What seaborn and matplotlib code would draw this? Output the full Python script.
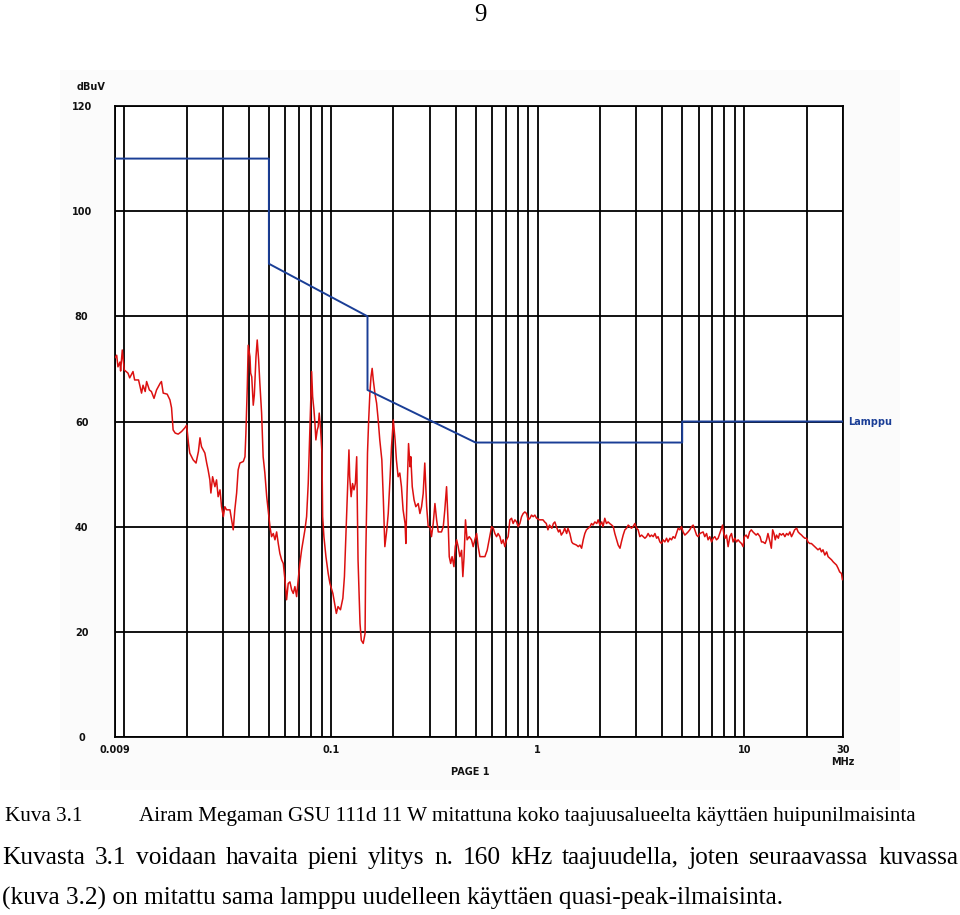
import matplotlib
matplotlib.use("Agg")
import matplotlib.pyplot as plt
import seaborn as sns
import pandas as pd

# ---------------- data ----------------
freq_mhz = [
    0.009, 0.00917, 0.0093, 0.00951, 0.00958, 0.00976, 0.00998, 0.0104, 0.0106, 0.0110,
    0.0112, 0.0117, 0.0119, 0.0121, 0.0123, 0.0126, 0.0128, 0.0132, 0.0135, 0.0139,
    0.0143, 0.0149, 0.0151, 0.0154, 0.0161, 0.0166, 0.0169, 0.0172, 0.0176, 0.0182,
    0.0189, 0.0196, 0.0200, 0.0204, 0.0207, 0.0215, 0.0222, 0.0228, 0.0232, 0.0236,
    0.0245, 0.0250, 0.0254, 0.0259, 0.0262, 0.0267, 0.0274, 0.0279, 0.0284, 0.0290,
    0.0295, 0.0301, 0.0306, 0.0312, 0.0324, 0.0336, 0.0342, 0.0349, 0.0355, 0.0362,
    0.0376, 0.0383, 0.0387, 0.0393, 0.0397, 0.0405, 0.0408, 0.0413, 0.0420, 0.0425,
    0.0433, 0.0439, 0.0446, 0.0452, 0.0461, 0.0469, 0.0478, 0.0488, 0.0496, 0.0506,
    0.0515, 0.0525, 0.0535, 0.0545, 0.0555, 0.0565, 0.0576, 0.0587, 0.0598, 0.0609,
    0.0620, 0.0632, 0.0644, 0.0656, 0.0668, 0.0681, 0.0693, 0.0706, 0.0720, 0.0733,
    0.0747, 0.0761, 0.0775, 0.0784, 0.0799, 0.0805, 0.0814, 0.0826, 0.0835, 0.0844,
    0.0857, 0.0866, 0.0876, 0.0890, 0.0903, 0.0910, 0.0923, 0.0944, 0.0968, 0.0987,
    0.102, 0.106, 0.108, 0.111, 0.114, 0.116, 0.118, 0.120, 0.122, 0.123,
    0.125, 0.127, 0.129, 0.131, 0.133, 0.134, 0.135, 0.138, 0.140, 0.143,
    0.146, 0.147, 0.149, 0.150, 0.152, 0.154, 0.156, 0.158, 0.160, 0.163,
    0.166, 0.169, 0.172, 0.176, 0.179, 0.182, 0.186, 0.189, 0.193, 0.196,
    0.200, 0.204, 0.207, 0.211, 0.215, 0.219, 0.223, 0.228, 0.230, 0.233,
    0.237, 0.241, 0.243, 0.247, 0.252, 0.257, 0.264, 0.269, 0.274, 0.279,
    0.284, 0.290, 0.295, 0.301, 0.306, 0.312, 0.318, 0.324, 0.330, 0.342,
    0.349, 0.355, 0.362, 0.369, 0.373, 0.379, 0.385, 0.393, 0.399, 0.405,
    0.412, 0.420, 0.428, 0.434, 0.440, 0.447, 0.455, 0.466, 0.478, 0.487,
    0.496, 0.506, 0.515, 0.525, 0.541, 0.555, 0.569, 0.582, 0.598, 0.609,
    0.620, 0.632, 0.643, 0.656, 0.668, 0.680, 0.693, 0.706, 0.719, 0.733,
    0.747, 0.760, 0.775, 0.790, 0.804, 0.819, 0.835, 0.850, 0.866, 0.883,
    0.899, 0.916, 0.933, 0.950, 0.968, 0.987, 1.02, 1.06, 1.08, 1.10,
    1.12, 1.14, 1.17, 1.19, 1.21, 1.23, 1.26, 1.28, 1.30, 1.33,
    1.35, 1.38, 1.40, 1.43, 1.46, 1.48, 1.54, 1.57, 1.60, 1.63,
    1.66, 1.69, 1.72, 1.79, 1.82, 1.85, 1.89, 1.93, 1.96, 2.00,
    2.04, 2.07, 2.11, 2.15, 2.19, 2.23, 2.28, 2.32, 2.36, 2.41,
    2.45, 2.50, 2.54, 2.59, 2.64, 2.69, 2.74, 2.79, 2.84, 2.89,
    2.95, 3.01, 3.06, 3.12, 3.18, 3.24, 3.30, 3.36, 3.42, 3.49,
    3.55, 3.62, 3.69, 3.76, 3.82, 3.90, 3.97, 4.04, 4.12, 4.20,
    4.27, 4.36, 4.44, 4.52, 4.61, 4.69, 4.78, 4.87, 4.96, 5.05,
    5.15, 5.25, 5.34, 5.44, 5.55, 5.65, 5.75, 5.87, 5.97, 6.09,
    6.31, 6.43, 6.56, 6.67, 6.80, 6.93, 7.06, 7.19, 7.33, 7.46,
    7.60, 7.75, 7.84, 7.95, 8.07, 8.19, 8.34, 8.50, 8.66, 8.82,
    8.99, 9.16, 9.32, 9.50, 9.68, 9.86, 10.0, 10.2, 10.4, 10.6,
    10.8, 11.0, 11.2, 11.4, 11.6, 11.9, 12.1, 12.3, 12.6, 12.8,
    13.0, 13.3, 13.5, 13.7, 13.9, 14.1, 14.3, 14.6, 14.8, 15.1,
    15.4, 15.7, 16.0, 16.3, 16.6, 16.9, 17.2, 17.5, 17.9, 18.2,
    18.5, 18.9, 19.2, 19.6, 20.0, 20.3, 20.7, 21.1, 21.5, 21.9,
    22.3, 22.7, 23.2, 23.6, 24.0, 24.5, 25.0, 25.4, 25.9, 26.4,
    26.9, 27.4, 27.9, 28.4, 28.9, 29.5, 29.8,
]
level_dbuv = [
    72.1, 72.6, 70.4, 71.3, 69.6, 73.6, 69.8, 69.2, 68.3, 69.5,
    67.9, 67.9, 66.6, 65.4, 66.9, 65.7, 67.6, 66.0, 65.7, 64.4,
    66.0, 67.3, 67.6, 65.4, 65.2, 64.1, 62.6, 58.4, 57.8, 57.6,
    58.1, 58.8, 59.3, 55.9, 54.0, 52.7, 52.1, 54.3, 56.9, 55.2,
    54.0, 52.1, 50.8, 48.9, 46.4, 49.5, 47.6, 48.9, 45.7, 47.0,
    43.8, 41.9, 43.8, 43.2, 43.2, 39.4, 43.2, 46.4, 50.8, 52.1,
    52.4, 53.3, 57.8, 66.6, 74.5, 72.3, 69.2, 68.5, 63.1, 65.0,
    72.3, 75.5, 71.7, 67.3, 61.6, 53.3, 50.2, 45.7, 43.2, 40.0,
    38.1, 38.7, 37.5, 39.0, 36.8, 34.9, 33.7, 33.0, 29.9, 26.1,
    29.2, 29.5, 28.0, 27.3, 28.6, 26.7, 29.9, 33.0, 35.6, 37.5,
    39.4, 41.9, 48.2, 54.6, 64.7, 69.5, 64.7, 62.2, 59.7, 56.5,
    58.4, 59.0, 61.6, 58.4, 54.0, 41.9, 38.1, 34.3, 31.1, 29.2,
    27.3, 23.5, 24.8, 24.2, 26.4, 30.5, 38.7, 47.0, 54.6, 49.5,
    45.7, 48.2, 47.0, 48.2, 53.3, 43.2, 33.7, 21.6, 18.4, 17.8,
    19.7, 33.7, 46.3, 54.0, 60.3, 65.3, 68.5, 70.1, 67.9, 65.3,
    63.5, 60.3, 56.5, 52.7, 45.1, 36.2, 39.4, 42.5, 49.5, 55.2,
    60.3, 56.5, 52.7, 49.5, 50.2, 47.6, 43.2, 40.6, 36.8, 46.3,
    55.8, 51.4, 53.3, 47.6, 45.1, 43.8, 44.4, 42.5, 43.8, 46.3,
    52.1, 43.8, 40.0, 40.0, 38.1, 40.6, 44.4, 41.3, 39.0, 39.0,
    40.0, 43.2, 47.6, 40.0, 34.3, 33.0, 34.3, 32.4, 36.2, 37.5,
    36.2, 34.3, 35.5, 30.5, 34.3, 41.3, 37.5, 38.1, 37.5, 36.2,
    37.5, 38.7, 36.2, 34.3, 34.3, 34.3, 35.5, 37.5, 40.0, 39.7,
    38.7, 38.1, 38.7, 38.1, 36.8, 37.5, 36.2, 37.5, 38.1, 41.3,
    41.6, 40.6, 41.3, 40.9, 40.0, 40.6, 41.9, 42.5, 42.8, 42.5,
    41.3, 41.6, 42.2, 41.9, 42.2, 41.6, 41.3, 41.3, 40.9, 40.6,
    39.4, 40.3, 39.7, 40.6, 40.9, 40.0, 39.0, 39.4, 38.4, 39.0,
    39.7, 38.7, 39.7, 38.7, 37.1, 36.8, 36.5, 36.2, 36.5, 35.9,
    37.5, 38.7, 39.4, 40.0, 40.6, 40.3, 40.9, 40.6, 41.3, 40.3,
    40.9, 40.0, 41.6, 40.6, 40.9, 40.6, 40.3, 40.0, 38.7, 37.5,
    36.5, 35.9, 37.1, 38.4, 39.4, 39.7, 40.3, 40.0, 39.7, 40.0,
    40.6, 39.7, 39.4, 38.1, 38.4, 38.1, 37.8, 38.1, 38.7, 38.1,
    38.4, 38.1, 38.7, 37.8, 38.1, 37.1, 36.8, 37.5, 37.1, 37.8,
    37.1, 37.8, 37.5, 38.1, 37.8, 38.7, 39.7, 39.4, 40.0, 39.0,
    38.4, 38.7, 39.0, 39.4, 40.0, 40.3, 39.4, 38.4, 38.1, 38.7,
    39.0, 38.1, 38.7, 37.5, 38.1, 37.1, 37.8, 38.1, 37.5, 37.8,
    38.7, 39.7, 40.3, 38.7, 37.8, 38.4, 36.2, 38.1, 38.7, 37.1,
    37.8, 37.1, 37.5, 37.1, 36.8, 36.2, 38.1, 38.4, 37.8, 39.0,
    39.4, 39.0, 38.7, 38.4, 38.7, 38.1, 37.1, 37.1, 36.8, 37.5,
    38.7, 37.1, 35.9, 39.4, 38.7, 37.5, 38.4, 37.8, 38.7, 38.4,
    38.7, 38.1, 38.7, 38.4, 39.0, 38.1, 38.7, 39.4, 39.7, 39.0,
    38.7, 38.4, 38.1, 37.8, 37.8, 37.1, 36.8, 36.8, 36.5, 36.2,
    35.9, 35.6, 35.9, 35.2, 35.6, 34.6, 35.2, 34.3, 34.0, 33.7,
    33.3, 33.0, 32.7, 32.1, 31.4, 31.1, 29.9,
]
limit_freq_mhz = [0.009, 0.05, 0.05, 0.15, 0.15, 0.5, 5, 5, 30]
limit_dbuv = [110, 110, 90, 80, 66, 56, 56, 60, 60]
limit_name = "Lamppu"

y_ticks = [0, 20, 40, 60, 80, 100, 120]
x_tick_values = [0.009, 0.1, 1, 10, 30]
x_tick_labels = ["0.009", "0.1", "1", "10", "30"]
decade_starts = [0.001, 0.01, 0.1, 1, 10]

page_number = "9"
caption_label = "Kuva 3.1"
caption_text = "Airam Megaman GSU 111d 11 W mitattuna koko taajuusalueelta käyttäen huipunilmaisinta"
body_line1 = "Kuvasta 3.1 voidaan havaita pieni ylitys n. 160 kHz taajuudella, joten seuraavassa kuvassa"
body_line2 = "(kuva 3.2) on mitattu sama lamppu uudelleen käyttäen quasi-peak-ilmaisinta."

# ---------------- figure ----------------
sns.set_theme(style="white")
plt.rcParams["font.family"] = ["DejaVu Sans"]

W, H = 960, 915
fig = plt.figure(figsize=(W / 100, H / 100), dpi=100)
fig.patch.set_facecolor("white")

# faint scanned-image background behind the chart
fig.patches.append(plt.Rectangle((60 / W, 1 - 790 / H), 840 / W, 720 / H,
                                 transform=fig.transFigure, facecolor="#fbfbfb",
                                 edgecolor="none", zorder=-5))

ax = fig.add_axes([115 / W, 1 - 737 / H, 728 / W, 631 / H])
ax.set_zorder(2)
ax.set_facecolor("white")
ax.set_xscale("log")
ax.set_xlim(0.009, 30)
ax.set_ylim(0, 120)

grid_kw = dict(color="black", lw=1.3, zorder=1)
for d in decade_starts:
    for k in range(1, 10):
        v = k * d
        if 0.009 <= v <= 30:
            ax.axvline(v, **grid_kw)
for yv in y_ticks:
    ax.axhline(yv, **grid_kw)

trace = pd.DataFrame({"freq": freq_mhz, "level": level_dbuv})
limit = pd.DataFrame({"freq": limit_freq_mhz, "level": limit_dbuv})
sns.lineplot(data=trace, x="freq", y="level", ax=ax, color="#dc1010", lw=1.1,
             sort=False, estimator=None, zorder=3)
sns.lineplot(data=limit, x="freq", y="level", ax=ax, color="#1a3e96", lw=1.4,
             sort=False, estimator=None, zorder=4)

for s in ax.spines.values():
    s.set_color("black")
    s.set_linewidth(1.3)

ax.set_xlabel("")
ax.set_ylabel("")
ax.set_xticks(x_tick_values)
ax.set_xticklabels(x_tick_labels)
ax.xaxis.set_minor_locator(matplotlib.ticker.NullLocator())
ax.set_yticks(y_ticks)
ax.set_yticklabels([str(v) for v in y_ticks])
ax.tick_params(axis="both", length=0, labelsize=7, labelcolor="#111111")
ax.tick_params(axis="x", pad=6)
ax.tick_params(axis="y", pad=24)
for lbl in ax.get_yticklabels():
    lbl.set_ha("center")
    lbl.set_fontweight("bold")
for lbl in ax.get_xticklabels():
    lbl.set_fontweight("bold")

small = dict(fontsize=7, fontweight="bold", color="#111111")
fig.text(77 / W, 1 - 87 / H, "dBuV", va="center", ha="left", **small)
fig.text(470 / W, 1 - 772 / H, "PAGE 1", va="center", ha="center", **small)
fig.text(843 / W, 1 - 762 / H, "MHz", va="center", ha="center", **small)
ax.text(1.007, 60, limit_name, transform=ax.get_yaxis_transform(), va="center",
        ha="left", fontsize=7, fontweight="bold", color="#1a3e96")

serif = ["Liberation Serif", "DejaVu Serif"]
fig.text(480 / W, 1 - 21 / H, page_number, family=serif, fontsize=18,
         ha="center", va="baseline", color="black")
fig.text(5 / W, 1 - 821 / H, caption_label, family=serif, fontsize=15.2,
         ha="left", va="baseline", color="black")
fig.text(139 / W, 1 - 821 / H, caption_text, family=serif, fontsize=15.2,
         ha="left", va="baseline", color="black")

# justified body line
fig.canvas.draw()
renderer = fig.canvas.get_renderer()
words = body_line1.split(" ")
arts = [fig.text(0, 1 - 864 / H, w, family=serif, fontsize=18.3, ha="left",
                 va="baseline", color="black") for w in words]
widths = [a.get_window_extent(renderer).width for a in arts]
x0, x1 = 2, 958
gap = (x1 - x0 - sum(widths)) / (len(words) - 1)
xc = x0
for a, wd in zip(arts, widths):
    a.set_x(xc / W)
    xc += wd + gap

fig.text(2 / W, 1 - 905 / H, body_line2, family=serif, fontsize=18.3,
         ha="left", va="baseline", color="black")

fig.savefig("out.png", dpi=100)
